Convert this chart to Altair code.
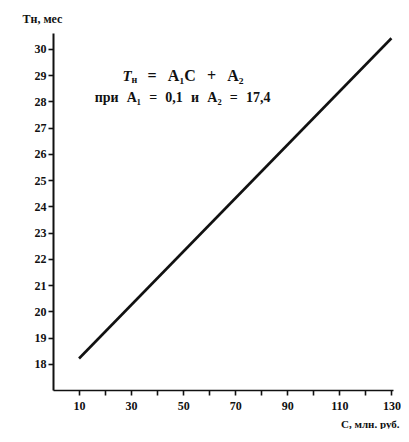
import altair as alt
import pandas as pd

# Data
c_vals = [10, 130]
t_vals = [18.2, 30.4]
x_tick_values = [10, 20, 30, 40, 50, 60, 70, 80, 90, 100, 110, 120, 130]
y_tick_values = [18, 19, 20, 21, 22, 23, 24, 25, 26, 27, 28, 29, 30]

# annotation texts
G1 = "\u2002\u2009"
G2 = "\u2002\u200a"
ann_texts = ["T", "н", "=" + G1 + "A\u2081C" + G1 + "+" + G1 + "A\u2082",
             "при" + G2 + "A\u2081" + G2 + "=" + G2 + "0,1" + G2 + "и" + G2 + "A\u2082" + G2 + "=" + G2 + "17,4"]
ann_c = [26.7, 26.7, 26.7, 16.0]
ann_t = [28.97, 28.97, 28.97, 28.13]

line_df = pd.DataFrame({"C": c_vals, "T": t_vals})

FONT = "Liberation Serif"
INK = "#111111"

x_scale = alt.Scale(domain=[0, 130.6], nice=False, zero=False)
y_scale = alt.Scale(domain=[17, 30.6], nice=False, zero=False)

x_axis = alt.Axis(
    values=x_tick_values,
    labelExpr="datum.value % 20 == 10 ? datum.label : ''",
    labelOverlap=False,
    grid=False, domainColor=INK, domainWidth=1.6, tickColor=INK, tickWidth=1.6,
    tickSize=5, labelPadding=5, labelFont=FONT, labelFontSize=12, labelFontWeight="bold",
    labelColor=INK, title="C, млн. руб.", titleFont=FONT, titleFontSize=11,
    titleFontWeight="bold", titleColor=INK, titleAlign="right", titleX=346, titleY=34,
    titleBaseline="middle", titleAnchor="start",
)
y_axis = alt.Axis(
    values=y_tick_values, labelOverlap=False, grid=False, domainColor=INK, domainWidth=2,
    tickColor=INK, tickWidth=1.6, tickSize=5, labelPadding=2, labelFont=FONT,
    labelFontSize=12, labelFontWeight="bold", labelColor=INK, title="Tн, мес",
    titleFont=FONT, titleFontSize=12, titleFontWeight="bold", titleColor=INK,
    titleAngle=0, titleAlign="left", titleX=-31, titleY=-15, titleBaseline="middle",
    titleAnchor="start",
)

line = alt.Chart(line_df).mark_line(color=INK, strokeWidth=2.6).encode(
    x=alt.X("C:Q", scale=x_scale, axis=x_axis),
    y=alt.Y("T:Q", scale=y_scale, axis=y_axis),
)

styles = [
    dict(dx=0, dy=0, fontSize=15, fontStyle="italic"),
    dict(dx=9, dy=4, fontSize=10, fontStyle="normal"),
    dict(dx=25, dy=0, fontSize=16, fontStyle="normal"),
    dict(dx=0, dy=0, fontSize=14, fontStyle="normal"),
]

layers = [line]
for i in range(len(ann_texts)):
    sub = pd.DataFrame({"C": [ann_c[i]], "T": [ann_t[i]], "txt": [ann_texts[i]]})
    layers.append(
        alt.Chart(sub).mark_text(
            align="left", baseline="middle", font=FONT, fontWeight="bold", color=INK,
            **styles[i],
        ).encode(
            x=alt.X("C:Q", scale=x_scale, axis=x_axis),
            y=alt.Y("T:Q", scale=y_scale, axis=y_axis),
            text="txt:N",
        )
    )

chart = alt.layer(*layers).properties(
    width=340, height=357,
    padding={"left": 45, "top": 25, "right": 8, "bottom": 39},
    autosize=alt.AutoSizeParams(type="none"),
    background="white",
).configure_view(stroke=None).configure_axis(labelOverlap=False)

chart.save("out.html", embed_options={"renderer": "svg", "actions": False})
